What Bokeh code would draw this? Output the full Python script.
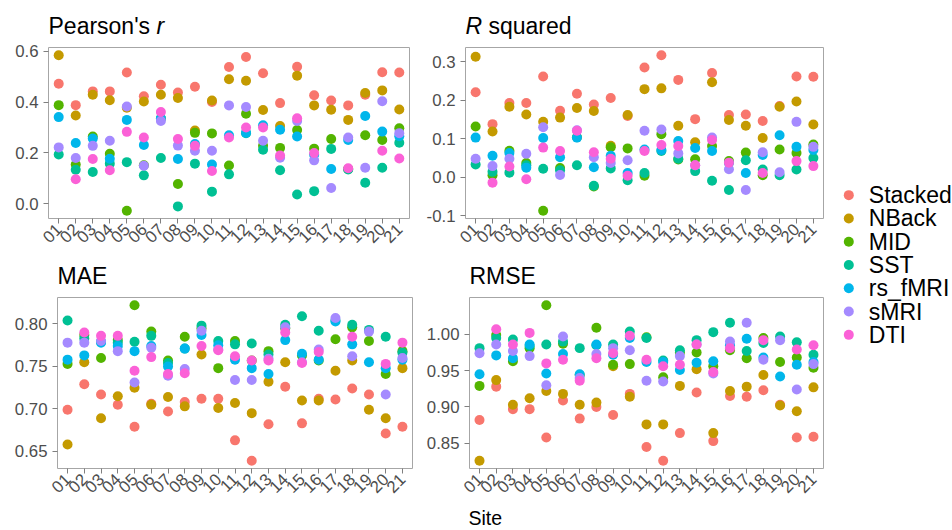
import math
import numpy as np
from bokeh.plotting import figure
from bokeh.models import (ColumnDataSource, Range1d, FixedTicker, PrintfTickFormatter,
                          FactorRange)
from bokeh.layouts import row, column
from bokeh.embed import file_html
from bokeh.resources import INLINE
from bokeh.core.properties import value

nan = float("nan")

SITES = ["01", "02", "03", "04", "05", "06", "07", "08", "09", "10", "11",
         "12", "13", "14", "15", "16", "17", "18", "19", "20", "21"]
MODELS = ["Stacked", "NBack", "MID", "SST", "rs_fMRI", "sMRI", "DTI"]
COLORS = ["#F8766D", "#C49A00", "#53B400", "#00C094", "#00B6EB", "#A58AFF", "#FB61D7"]

# ---- Pearson's r ----
R_STACKED = [0.472, 0.388, 0.442, 0.442, 0.516, 0.423, 0.468, 0.438, 0.460, 0.400, 0.538,
             0.577, 0.513, 0.396, 0.539, 0.427, 0.406, 0.387, 0.429, 0.517, 0.516]
R_NBACK = [0.584, 0.347, 0.429, 0.407, 0.378, 0.402, 0.429, 0.416, 0.288, 0.406, 0.490,
           0.484, 0.369, 0.306, 0.504, 0.387, 0.370, 0.330, 0.436, 0.446, 0.371]
R_MID = [0.388, 0.155, 0.265, 0.197, -0.027, 0.152, 0.335, 0.078, 0.279, 0.277, 0.151,
         0.354, 0.228, 0.220, 0.290, 0.217, 0.255, 0.137, 0.270, 0.251, 0.297]
R_SST = [0.194, 0.134, 0.125, 0.158, 0.164, 0.112, 0.180, -0.010, 0.158, 0.048, 0.116,
         0.278, 0.213, 0.132, 0.037, 0.050, 0.216, 0.135, 0.083, 0.142, 0.240]
R_RS = [0.341, 0.239, 0.257, 0.177, 0.330, 0.231, 0.336, 0.176, 0.235, 0.155, 0.270,
        0.279, 0.309, 0.291, 0.265, 0.193, 0.137, 0.251, 0.345, 0.284, 0.266]
R_SMRI = [0.222, 0.180, 0.228, 0.248, 0.383, 0.150, 0.326, 0.229, 0.209, 0.209, 0.387,
          0.381, 0.248, 0.181, 0.326, 0.171, 0.062, 0.261, 0.142, 0.403, 0.278]
R_DTI = [nan, 0.097, 0.176, 0.132, 0.283, 0.261, 0.361, 0.255, 0.228, 0.129, 0.261,
         0.300, 0.300, 0.190, 0.336, 0.200, nan, 0.140, nan, 0.209, 0.178]
R_TICKS = [0.0, 0.2, 0.4, 0.6]

# ---- R squared ----
R2_STACKED = [0.221, 0.138, 0.193, 0.193, 0.262, 0.173, 0.217, 0.189, 0.206, 0.159, 0.285,
              0.317, 0.253, 0.151, 0.271, 0.162, 0.163, 0.146, 0.185, 0.262, 0.261]
R2_NBACK = [0.313, 0.119, 0.183, 0.163, 0.144, 0.155, 0.180, 0.172, 0.082, 0.162, 0.229,
            0.231, 0.134, 0.091, 0.247, 0.149, 0.134, 0.102, 0.183, 0.197, 0.137]
R2_MID = [0.132, 0.005, 0.069, 0.037, -0.087, 0.024, 0.104, -0.024, 0.078, 0.075, 0.004,
          0.112, 0.046, 0.047, 0.081, 0.042, 0.064, 0.005, 0.072, 0.063, 0.085]
R2_SST = [0.033, 0.014, 0.012, 0.031, 0.022, 0.018, 0.031, -0.022, 0.023, -0.008, 0.011,
          0.068, 0.048, 0.016, -0.009, -0.033, 0.044, 0.020, 0.005, 0.020, 0.050]
R2_RS = [0.103, 0.056, 0.063, 0.025, 0.102, 0.052, 0.103, 0.026, 0.056, 0.011, 0.072,
         0.071, 0.094, 0.076, 0.068, 0.037, 0.011, 0.058, 0.109, 0.079, 0.071]
R2_SMRI = [0.048, 0.029, 0.048, 0.061, 0.130, 0.006, 0.122, 0.052, 0.037, 0.044, 0.121,
           0.124, 0.062, 0.031, 0.103, 0.021, -0.033, 0.065, 0.013, 0.144, 0.079]
R2_DTI = [nan, -0.014, 0.028, -0.005, 0.077, 0.068, 0.121, 0.065, 0.048, 0.004, 0.068,
          0.084, 0.081, 0.031, 0.097, 0.038, nan, 0.011, nan, 0.042, 0.029]
R2_TICKS = [-0.1, 0.0, 0.1, 0.2, 0.3]

# ---- MAE ----
MAE_STACKED = [0.699, 0.729, 0.717, 0.705, 0.679, 0.706, 0.697, 0.708, 0.712, 0.712, 0.663,
               0.639, 0.682, 0.726, 0.683, 0.712, 0.711, 0.724, 0.717, 0.671, 0.679]
MAE_NBACK = [0.658, 0.755, 0.689, 0.715, 0.725, 0.705, 0.714, 0.703, 0.764, 0.701, 0.707,
             0.695, 0.732, 0.755, 0.710, 0.710, 0.745, 0.757, 0.699, 0.689, 0.748]
MAE_MID = [0.753, 0.787, 0.760, 0.781, 0.822, 0.791, 0.757, 0.785, 0.795, 0.748, 0.780,
           0.757, 0.768, 0.795, 0.763, 0.757, 0.782, 0.796, 0.780, 0.741, 0.768]
MAE_SST = [0.804, 0.783, 0.779, 0.778, 0.779, 0.786, 0.754, 0.771, 0.798, 0.780, 0.776,
           0.777, 0.764, 0.799, 0.809, 0.792, 0.804, 0.799, 0.793, 0.785, 0.766]
MAE_RS = [0.758, 0.763, 0.778, 0.774, 0.768, 0.774, 0.750, 0.771, 0.787, 0.775, 0.758,
          0.748, 0.741, 0.781, 0.765, 0.758, 0.803, 0.776, 0.755, 0.748, 0.758]
MAE_SMRI = [0.778, 0.778, 0.780, 0.768, 0.731, 0.772, 0.739, 0.747, 0.792, 0.770, 0.734,
            0.734, 0.759, 0.796, 0.755, 0.770, 0.807, 0.762, 0.791, 0.717, 0.760]
MAE_DTI = [nan, 0.790, 0.786, 0.786, 0.745, 0.761, 0.741, 0.742, 0.774, 0.769, 0.762,
           0.757, 0.757, 0.790, 0.754, 0.767, nan, 0.785, nan, 0.753, 0.778]
MAE_TICKS = [0.65, 0.70, 0.75, 0.80]

# ---- RMSE ----
RMSE_STACKED = [0.882, 0.928, 0.897, 0.897, 0.858, 0.909, 0.884, 0.900, 0.889, 0.918, 0.845,
                0.826, 0.864, 0.920, 0.853, 0.915, 0.914, 0.923, 0.903, 0.858, 0.859]
RMSE_NBACK = [0.826, 0.937, 0.903, 0.912, 0.922, 0.918, 0.903, 0.906, 0.956, 0.914, 0.876,
              0.876, 0.929, 0.952, 0.864, 0.922, 0.928, 0.944, 0.902, 0.894, 0.927]
RMSE_MID = [0.929, 0.999, 0.963, 0.981, 1.040, 0.987, 0.944, 1.009, 0.958, 0.959, 0.996,
            0.941, 0.975, 0.975, 0.956, 0.978, 0.967, 0.995, 0.962, 0.968, 0.954]
RMSE_SST = [0.981, 0.995, 0.993, 0.984, 0.986, 0.990, 0.981, 0.985, 0.986, 1.004, 0.995,
            0.964, 0.978, 0.992, 1.003, 1.016, 0.977, 0.988, 0.997, 0.989, 0.972]
RMSE_RS = [0.945, 0.971, 0.967, 0.986, 0.946, 0.973, 0.945, 0.986, 0.972, 0.995, 0.962,
           0.962, 0.951, 0.961, 0.963, 0.985, 0.994, 0.968, 0.942, 0.958, 0.962]
RMSE_SMRI = [0.974, 0.986, 0.977, 0.970, 0.930, 0.997, 0.940, 0.973, 0.981, 0.978, 0.936,
             0.935, 0.970, 0.986, 0.946, 0.990, 1.016, 0.965, 0.992, 0.924, 0.959]
RMSE_DTI = [nan, 1.007, 0.986, 1.002, 0.960, 0.965, 0.936, 0.967, 0.974, 0.998, 0.965,
            0.956, 0.958, 0.986, 0.948, 0.981, nan, 0.992, nan, 0.979, 0.985]
RMSE_TICKS = [0.85, 0.90, 0.95, 1.00]

FONT = "Liberation Sans"
TICK_GREY = "#4D4D4D"


def blank(width, height):
    f = figure(width=width, height=height, output_backend="svg", toolbar_location=None,
               x_range=Range1d(0, width), y_range=Range1d(0, height),
               x_axis_location=None, y_axis_location=None,
               min_border_left=0, min_border_right=0, min_border_top=0,
               min_border_bottom=0)
    f.grid.visible = False
    f.outline_line_color = None
    return f


def put_text(f, x, y, text, size, style="normal"):
    src = ColumnDataSource(dict(x=[x], y=[y], t=[text]))
    f.text(x="x", y="y", text="t", source=src, text_baseline="middle",
           text_align="left", text_font=value(FONT), text_font_size=value(size),
           text_font_style=value(style), text_color="black")


def make_panel(width, height, bl, br, bt, bb, series, ticks, fmt):
    xs = np.arange(1, len(SITES) + 1)
    allv = np.array([v for s in series for v in s], dtype=float)
    lo, hi = np.nanmin(allv), np.nanmax(allv)
    pad = (hi - lo) * 0.05
    p = figure(width=width, height=height, output_backend="svg", toolbar_location=None,
               x_range=Range1d(0.4, len(SITES) + 0.6), y_range=Range1d(lo - pad, hi + pad),
               min_border_left=bl, min_border_right=br, min_border_top=bt,
               min_border_bottom=bb)
    p.title.visible = False
    p.grid.visible = False
    p.outline_line_color = "#A6A6A6"
    p.outline_line_width = 1
    for color, ys in zip(COLORS, series):
        src = ColumnDataSource(dict(x=xs, y=np.array(ys, dtype=float)))
        p.scatter("x", "y", source=src, size=10, fill_color=color, line_color=None)

    xa = p.xaxis[0]
    xa.ticker = FixedTicker(ticks=list(xs))
    xa.major_label_overrides = {int(i): s for i, s in zip(xs, SITES)}
    xa.major_label_orientation = math.pi / 4
    ya = p.yaxis[0]
    ya.ticker = FixedTicker(ticks=ticks)
    ya.formatter = PrintfTickFormatter(format=fmt)
    for ax in (xa, ya):
        ax.axis_line_color = None
        ax.minor_tick_line_color = None
        ax.major_tick_in = 0
        ax.major_tick_out = 5
        ax.major_tick_line_color = "#7F7F7F"
        ax.major_label_text_font = FONT
        ax.major_label_text_font_size = "16.8px"
        ax.major_label_text_color = TICK_GREY
    ya.major_label_standoff = 5
    xa.major_label_standoff = 3
    return p


# panel geometry (frame left edges in page pixels)
P1_L, P2_L, P3_L, P4_L = 48, 465, 57, 469
COL2_X = 420
TITLE_Y = 14.7

# header with titles of the top row
h1 = blank(830, 40)
put_text(h1, P1_L, TITLE_Y, "Pearson's", "23px")
put_text(h1, P1_L + 108, TITLE_Y, "r", "23px", "italic")
put_text(h1, P2_L, TITLE_Y, "R", "23px", "italic")
put_text(h1, P2_L + 23, TITLE_Y, "squared", "23px")

p1 = make_panel(COL2_X, 218, P1_L, 11, 7, 40,
                [R_STACKED, R_NBACK, R_MID, R_SST, R_RS, R_SMRI, R_DTI],
                R_TICKS, "%.1f")
p2 = make_panel(410, 218, P2_L - COL2_X, 7, 7, 40,
                [R2_STACKED, R2_NBACK, R2_MID, R2_SST, R2_RS, R2_SMRI, R2_DTI],
                R2_TICKS, "%.1f")

h2 = blank(830, 32)
put_text(h2, P3_L, TITLE_Y, "MAE", "23px")
put_text(h2, P4_L, TITLE_Y, "RMSE", "23px")

p3 = make_panel(COL2_X, 216, P3_L, 8, 7, 38,
                [MAE_STACKED, MAE_NBACK, MAE_MID, MAE_SST, MAE_RS, MAE_SMRI, MAE_DTI],
                MAE_TICKS, "%.2f")
p4 = make_panel(410, 216, P4_L - COL2_X, 7, 7, 38,
                [RMSE_STACKED, RMSE_NBACK, RMSE_MID, RMSE_SST, RMSE_RS, RMSE_SMRI, RMSE_DTI],
                RMSE_TICKS, "%.2f")

footer = blank(830, 24)
put_text(footer, 468, 13, "Site", "19.5px")

# legend panel
lg = figure(width=122, height=530, output_backend="svg", toolbar_location=None,
            x_range=Range1d(0, 122), y_range=FactorRange(factors=list(reversed(MODELS))),
            x_axis_location=None, y_axis_location=None,
            min_border_left=0, min_border_right=0, min_border_top=183, min_border_bottom=184)
lg.grid.visible = False
lg.outline_line_color = None
lsrc = ColumnDataSource(dict(y=MODELS, c=COLORS, t=MODELS))
lg.scatter(x=18.3, y="y", source=lsrc, size=10, fill_color="c", line_color=None)
lg.text(x=38.3, y="y", text="t", source=lsrc, text_baseline="middle", text_align="left",
        text_font=value(FONT), text_font_size=value("23px"), text_color="black")

left = column(h1, row(p1, p2), h2, row(p3, p4), footer)
layout = row(left, lg)

open("out.html", "w").write(file_html(layout, INLINE))
